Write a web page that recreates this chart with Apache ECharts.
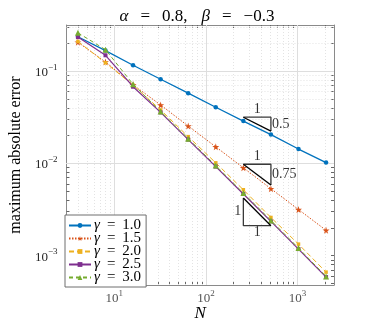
<!DOCTYPE html>
<html><head><meta charset="utf-8">
<script src="https://cdn.jsdelivr.net/npm/echarts@6/dist/echarts.min.js"></script>
<style>html,body{margin:0;padding:0;background:#fff}#c{width:371px;height:327px}</style>
</head><body><div id="c"></div>
<script>
const N = [4, 8, 16, 32, 64, 128, 256, 512, 1024, 2048];
const errGamma10 = [0.2355, 0.1668, 0.1157, 0.0815, 0.0577, 0.0406, 0.0287, 0.0205, 0.01429, 0.01019];
const errGamma15 = [0.2056, 0.1256, 0.0711, 0.0429, 0.02535, 0.0151, 0.00895, 0.00531, 0.00316, 0.00188];
const errGamma20 = [0.2096, 0.1230, 0.0703, 0.03792, 0.01948, 0.01013, 0.00517, 0.00259, 0.001331, 0.000662];
const errGamma25 = [0.2337, 0.1484, 0.0677, 0.03565, 0.01808, 0.00922, 0.00465, 0.00235, 0.001177, 0.000585];
const errGamma30 = [0.2600, 0.1709, 0.0720, 0.03653, 0.01853, 0.00945, 0.00477, 0.002407, 0.001206, 0.000595];
const seriesNames = ['γ = 1.0', 'γ = 1.5', 'γ = 2.0', 'γ = 2.5', 'γ = 3.0'];
const xTicks = [10, 100, 1000];
const yTicks = [1e-3, 1e-2, 1e-1];
const xRange = [3, 2500];
const yRange = [4.8e-4, 0.316];
const slopeTriangles = [
  { n1: 256, n2: 512, top: Math.pow(10, -1.5), slope: 0.5, label: '0.5', kind: 'upper' },
  { n1: 256, n2: 512, top: Math.pow(10, -2.01), slope: 0.75, label: '0.75', kind: 'upper' },
  { n1: 256, n2: 512, top: Math.pow(10, -2.375), slope: 1, label: '1', kind: 'lower' }
];

function minorVals(lo, hi) {
  const out = [];
  for (let e = -5; e <= 5; e++) for (let k = 2; k <= 9; k++) {
    const v = k * Math.pow(10, e);
    if (v > lo * 1.0001 && v < hi * 0.9999) out.push(+v.toPrecision(3));
  }
  return out;
}
const xMinor = minorVals(xRange[0], xRange[1]);
const yMinor = minorVals(yRange[0], yRange[1]);

const serif = 'Liberation Serif';
const colors = ['#0072BD', '#D95319', '#EDB120', '#7E2F8E', '#77AC30'];
const starPath = 'path://M50,0 L61,35 L98,35 L68,57 L79,91 L50,70 L21,91 L32,57 L2,35 L39,35 Z';

function powLabel(v) {
  const e = Math.round(Math.log10(v));
  return '{b|10}{s|' + (e < 0 ? '−' + (-e) : e) + '}';
}
const tickRich = {
  b: { fontFamily: serif, fontSize: 13, color: '#262626', lineHeight: 16, verticalAlign: 'bottom' },
  s: { fontFamily: serif, fontSize: 9, color: '#262626', lineHeight: 9, verticalAlign: 'top' }
};

const seriesData = [errGamma10, errGamma15, errGamma20, errGamma25, errGamma30];
const styles = [
  { symbol: 'circle', size: 4.5, type: 'solid', width: 1.3 },
  { symbol: starPath, size: 7, type: [1.5, 1.5], width: 1 },
  { symbol: 'rect', size: 3.5, type: [5, 3], width: 1 },
  { symbol: 'rect', size: 4, type: 'solid', width: 1.2 },
  { symbol: 'triangle', size: 6, type: [4, 3], width: 1 }
];

const series = seriesData.map((arr, i) => ({
  name: seriesNames[i], type: 'line', data: N.map((n, j) => [n, arr[j]]),
  symbol: styles[i].symbol, symbolSize: styles[i].size, showSymbol: true,
  lineStyle: { color: colors[i], width: styles[i].width, type: styles[i].type },
  itemStyle: { color: colors[i] }, z: 5 + i, animation: false
}));

series.unshift({
  type: 'line', data: [], silent: true, animation: false, z: 1,
  markLine: {
    silent: true, symbol: 'none', animation: false, label: { show: false },
    data: [
      ...xMinor.map(v => ({ xAxis: v, lineStyle: { color: '#e3e3e3', type: [1, 2], width: 1 } })),
      ...yMinor.map(v => ({ yAxis: v, lineStyle: { color: '#e3e3e3', type: [1, 2], width: 1 } })),
      ...xTicks.map(v => ({ xAxis: v, lineStyle: { color: '#dedede', type: 'solid', width: 1 } })),
      ...yTicks.map(v => ({ yAxis: v, lineStyle: { color: '#dedede', type: 'solid', width: 1 } }))
    ]
  }
});

series.push({
  type: 'scatter', symbolSize: 0, silent: true, animation: false, z: 25,
  data: xTicks.map(v => ({ value: [v, yRange[0]], label: { formatter: powLabel(v) } })),
  label: { show: true, position: 'bottom', distance: 4, rich: tickRich }
});

slopeTriangles.forEach(t => {
  const bottom = t.top / Math.pow(t.n2 / t.n1, t.slope);
  let legs, labels;
  const midN = Math.sqrt(t.n1 * t.n2), midE = Math.sqrt(t.top * bottom);
  if (t.kind === 'upper') {
    legs = [[t.n1, t.top], [t.n2, t.top], [t.n2, bottom]];
    labels = [
      { value: [midN, t.top], label: { formatter: '1', position: 'top', distance: 1 } },
      { value: [t.n2, midE], label: { formatter: t.label, position: 'right', distance: 1 } }
    ];
  } else {
    legs = [[t.n1, t.top], [t.n1, bottom], [t.n2, bottom]];
    labels = [
      { value: [t.n1, midE], label: { formatter: '1', position: 'left', distance: 2 } },
      { value: [midN, bottom], label: { formatter: '1', position: 'bottom', distance: 0 } }
    ];
  }
  const hyp = [[t.n1, t.top], [t.n2, bottom]];
  series.push({ type: 'line', data: legs, symbol: 'none', silent: true, animation: false, z: 20,
    lineStyle: { color: '#3a3a3a', width: 1.3 } });
  series.push({ type: 'line', data: hyp, symbol: 'none', silent: true, animation: false, z: 21,
    lineStyle: { color: '#000', width: 1.3 } });
  series.push({ type: 'scatter', data: labels, symbolSize: 0, silent: true, animation: false, z: 22,
    label: { show: true, color: '#000', fontFamily: serif, fontSize: 14 } });
});

const chart = echarts.init(document.getElementById('c'), null, { renderer: 'canvas' });
const axisLineStyle = { color: '#8a8a8a', width: 1 };
const tRich = (extra) => Object.assign({ fontFamily: serif, fontSize: 17, color: '#000', fontWeight: 'normal' }, extra || {});
const lRich = (extra) => Object.assign({ fontFamily: serif, fontSize: 15, color: '#000', lineHeight: 12, height: 12 }, extra || {});
chart.setOption({
  animation: false,
  backgroundColor: '#fff',
  title: {
    text: '{i|α}{e|=}{t|0.8,}{i2|β}{e|=}{t|−0.3}',
    left: 192, top: 3, textAlign: 'center',
    textStyle: {
      fontWeight: 'normal',
      rich: {
        i: tRich({ fontStyle: 'italic' }),
        i2: tRich({ fontStyle: 'italic', padding: [0, 0, 0, 14] }),
        e: tRich({ padding: [0, 12] }),
        t: tRich()
      }
    }
  },
  grid: { left: 62, right: 37, top: 25, bottom: 39, containLabel: false },
  legend: {
    data: seriesNames, orient: 'vertical', left: 65, top: 215,
    itemWidth: 22, itemHeight: 6, itemGap: -2,
    padding: [3, 5, 2, 3], borderColor: '#6e6e6e', borderWidth: 1, backgroundColor: '#fff',
    formatter: name => '{g|γ}{e|=}{t|' + name.split('= ')[1] + '}',
    textStyle: {
      fontSize: 12, lineHeight: 12, height: 12, padding: [0, 0, 0, -2],
      rich: {
        g: lRich({ fontStyle: 'italic' }),
        e: lRich({ padding: [0, 7] }),
        t: lRich()
      }
    },
    z: 30
  },
  xAxis: [
    { type: 'log', logBase: 10, min: xRange[0], max: xRange[1], position: 'bottom',
      name: 'N', nameLocation: 'middle', nameGap: 20,
      nameTextStyle: { fontFamily: serif, fontStyle: 'italic', fontSize: 17, color: '#000' },
      axisLine: { show: true, lineStyle: axisLineStyle },
      axisTick: { show: true, inside: true, length: 3, customValues: xTicks.concat(xMinor), lineStyle: { color: '#666' } },
      axisLabel: { show: false },
      splitLine: { show: false }, minorTick: { show: false } },
    { type: 'log', logBase: 10, min: xRange[0], max: xRange[1], position: 'top',
      axisLine: { show: true, lineStyle: axisLineStyle },
      axisTick: { show: true, inside: true, length: 3, customValues: xTicks.concat(xMinor), lineStyle: { color: '#666' } },
      axisLabel: { show: false }, splitLine: { show: false } }
  ],
  yAxis: [
    { type: 'log', logBase: 10, min: yRange[0], max: yRange[1], position: 'left',
      name: 'maximum absolute error', nameLocation: 'middle', nameGap: 42,
      nameTextStyle: { fontFamily: serif, fontSize: 16, color: '#000' },
      axisLine: { show: true, lineStyle: axisLineStyle },
      axisTick: { show: true, inside: true, length: 3, customValues: yTicks.concat(yMinor), lineStyle: { color: '#666' } },
      axisLabel: { customValues: yTicks, formatter: powLabel, margin: 9, rich: tickRich, showMinLabel: true, showMaxLabel: true },
      splitLine: { show: false } },
    { type: 'log', logBase: 10, min: yRange[0], max: yRange[1], position: 'right',
      axisLine: { show: true, lineStyle: axisLineStyle },
      axisTick: { show: true, inside: true, length: 3, customValues: yTicks.concat(yMinor), lineStyle: { color: '#666' } },
      axisLabel: { show: false }, splitLine: { show: false } }
  ],
  series: series
});
</script></body></html>
